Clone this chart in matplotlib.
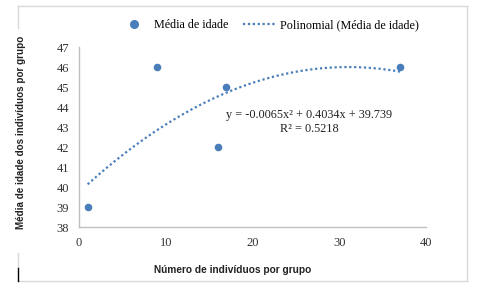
import numpy as np
import matplotlib
matplotlib.use("Agg")
import matplotlib.pyplot as plt
from matplotlib.lines import Line2D

# data
n_individuos = [1, 9, 16, 17, 37]
media_idade = [39, 46, 42, 45, 46]
# trendline coefficients shown on the chart (x^2, x, 1)
poly_coef = [-0.0065, 0.4034, 39.739]
r2 = 0.5218

blue = '#4a7ebb'
grid_gray = '#bfbfbf'

fig = plt.figure(figsize=(4.84, 2.9), dpi=100)
ax = fig.add_axes([79 / 484, 1 - 227 / 290, (426 - 79) / 484, (227 - 47) / 290])

ax.scatter(n_individuos, media_idade, s=30, color=blue, zorder=3, linewidths=0)
xs = np.linspace(min(n_individuos), max(n_individuos), 200)
ax.plot(xs, np.polyval(poly_coef, xs), color=blue, lw=1.6, ls=(0, (1, 1.2)))

ax.set_xlim(0, 40)
ax.set_ylim(38, 47)
ax.set_xticks(range(0, 41, 10))
ax.set_yticks(range(38, 48))
ax.tick_params(length=0, labelsize=9, pad=7)
for lab in ax.get_xticklabels() + ax.get_yticklabels():
    lab.set_fontfamily('Liberation Serif')
    lab.set_color('#333333')
for s in ['top', 'right']:
    ax.spines[s].set_visible(False)
for s in ['left', 'bottom']:
    ax.spines[s].set_color(grid_gray)
    ax.spines[s].set_linewidth(1)

fig.text(309 / 484, 1 - 115 / 290, 'y = -0.0065x² + 0.4034x + 39.739',
         ha='center', va='center', family='Liberation Serif', fontsize=8.8,
         color='#222222')
fig.text(309 / 484, 1 - 129 / 290, 'R² = %.4f' % r2,
         ha='center', va='center', family='Liberation Serif', fontsize=8.8,
         color='#222222')

fig.text(233 / 484, 1 - 270 / 290, 'Número de indivíduos por grupo',
         ha='center', va='center', family='Liberation Sans', fontweight='bold',
         fontsize=7.3, color='#222222')
fig.text(21 / 484, 1 - 132 / 290, 'Média de idade dos indivíduos por grupo',
         ha='center', va='center', rotation=90, family='Liberation Sans',
         fontweight='bold', fontsize=7.1, color='#222222')

handles = [Line2D([], [], ls='none', marker='o', ms=5.5, color=blue),
           Line2D([], [], color=blue, lw=1.6, ls=(0, (1, 1.2)))]
leg = fig.legend(handles, ['Média de idade', 'Polinomial (Média de idade)'],
                 loc='center', bbox_to_anchor=(268 / 484, 1 - 25 / 290), ncol=2,
                 frameon=False, prop={'family': 'Liberation Serif', 'size': 8.7},
                 handlelength=2.8, columnspacing=1.2, handletextpad=0.3)

# outer chart frame
frame_col = '#d9d9d9'
fig.add_artist(Line2D([18 / 484, 467 / 484], [1 - 6 / 290, 1 - 6 / 290], color=frame_col, lw=1))
fig.add_artist(Line2D([18 / 484, 467 / 484], [1 - 281 / 290, 1 - 281 / 290], color=frame_col, lw=1))
fig.add_artist(Line2D([467 / 484, 467 / 484], [1 - 6 / 290, 1 - 281 / 290], color=frame_col, lw=1))
fig.add_artist(Line2D([18 / 484, 18 / 484], [1 - 6 / 290, 1 - 28 / 290], color=frame_col, lw=1))
fig.add_artist(Line2D([18 / 484, 18 / 484], [1 - 253 / 290, 1 - 268 / 290], color=frame_col, lw=1))
fig.add_artist(Line2D([18 / 484, 18 / 484], [1 - 268 / 290, 1 - 281 / 290], color='black', lw=1))

fig.savefig('out.png', dpi=100)
